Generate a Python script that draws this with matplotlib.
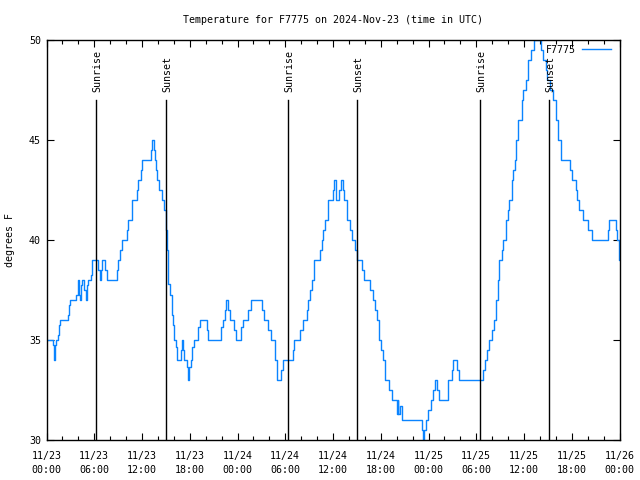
import matplotlib
matplotlib.use("Agg")
import matplotlib.pyplot as plt
from matplotlib.ticker import MultipleLocator, FixedLocator

# ---- data (hours since 2024-11-23 00:00 UTC, temperature in F) ----
hours = [0.00, 0.78, 0.90, 1.10, 1.19, 1.48, 1.61, 1.73, 2.74, 2.87, 2.99, 3.74, 3.92, 4.05,
         4.20, 4.35, 4.50, 4.75, 4.95, 5.10, 5.20, 5.55, 5.76, 6.51, 6.70, 6.85, 7.01, 7.35,
         7.64, 8.82, 8.95, 9.24, 9.53, 10.08, 10.20, 10.71, 11.33, 11.46, 11.87, 12.04, 13.15,
         13.30, 13.45, 13.63, 13.76, 13.92, 14.17, 14.48, 14.80, 14.98, 15.10, 15.23, 15.31,
         15.52, 15.73, 15.86, 15.98, 16.06, 16.27, 16.45, 16.90, 17.03, 17.15, 17.32, 17.60,
         17.75, 17.90, 18.10, 18.30, 18.57, 19.08, 19.29, 20.13, 20.33, 21.93, 22.18, 22.43,
         22.59, 22.85, 23.10, 23.60, 23.81, 24.40, 24.65, 25.36, 25.66, 27.12, 27.33, 27.87,
         28.17, 28.71, 28.93, 29.43, 29.68, 30.94, 31.10, 31.86, 32.19, 32.70, 32.90, 33.11,
         33.36, 33.61, 34.37, 34.58, 34.78, 35.00, 35.41, 35.96, 36.17, 36.34, 36.79, 37.04,
         37.26, 37.42, 37.80, 38.14, 38.35, 38.77, 39.06, 39.65, 39.90, 40.65, 40.99, 41.24,
         41.53, 41.82, 42.07, 42.28, 42.54, 43.08, 43.45, 44.01, 44.11, 44.23, 44.36, 44.63,
         47.15, 47.27, 47.44, 47.63, 47.94, 48.32, 48.61, 48.82, 49.07, 49.36, 50.41, 50.92,
         51.14, 51.62, 51.87, 54.89, 55.10, 55.32, 55.64, 55.94, 56.23, 56.45, 56.70, 56.86,
         57.18, 57.40, 57.70, 57.95, 58.12, 58.46, 58.66, 58.81, 58.96, 59.29, 59.71, 59.91,
         60.22, 60.54, 60.88, 61.30, 62.14, 62.43, 62.77, 62.93, 63.27, 63.68, 63.99, 64.31,
         64.65, 65.78, 65.99, 66.50, 66.70, 66.95, 67.38, 68.08, 68.51, 70.52, 70.72, 71.56,
         71.73, 71.90, 72.00]
temps = [35, 34.75, 34, 34.75, 35, 35.25, 35.75, 36, 36.25, 36.75, 37, 37.25, 38, 37.25,
         37, 37.75, 38, 37.5, 37, 37.75, 38, 38.25, 39, 38.5, 38, 38.5, 39, 38.5,
         38, 38.5, 39, 39.5, 40, 40.5, 41, 42, 42.5, 43, 43.5, 44, 44.5,
         45, 44.5, 44, 43.5, 43, 42.5, 42, 41.5, 40.5, 39.5, 38.5, 37.8,
         37.25, 36.25, 35.75, 35.25, 35, 34.67, 34, 34.5, 35, 34.5, 34, 33.67,
         33, 33.67, 34, 34.67, 35, 35.67, 36, 35.5, 35, 35.67, 36, 36.5,
         37, 36.5, 36, 35.5, 35, 35.67, 36, 36.5, 37, 36.5, 36, 35.5,
         35, 34, 33, 33.5, 34, 34.5, 35, 35.5, 36, 36.5, 37, 37.5,
         38, 39, 39.5, 40, 40.5, 41, 42, 42.5, 43, 42, 42.5, 43,
         42.5, 42, 41, 40.5, 40, 39.5, 39, 38.5, 38, 37.5, 37, 36.5,
         36, 35, 34.5, 34, 33, 32.5, 32, 31.3, 32, 31.3, 31.7, 31,
         30.5, 30, 30.5, 31, 31.5, 32, 32.5, 33, 32.5, 32, 33, 33.5,
         34, 33.5, 33, 33.5, 34, 34.5, 35, 35.5, 36, 37, 38, 39,
         39.5, 40, 41, 41.5, 42, 43, 43.5, 44, 45, 46, 47, 47.5,
         48, 49, 49.5, 50, 49.5, 49, 48.5, 48, 47.5, 47, 46, 45,
         44, 43.5, 43, 42.5, 42, 41.5, 41, 40.5, 40, 40.5, 41, 40.5,
         40, 39, 39]

sun_hours = [6.26, 15.05, 30.39, 39.06, 54.51, 63.18]
sun_labels = ["Sunrise", "Sunset", "Sunrise", "Sunset", "Sunrise", "Sunset"]

xtick_hours = [0, 6, 12, 18, 24, 30, 36, 42, 48, 54, 60, 66, 72]
xtick_labels = ["11/23\n00:00", "11/23\n06:00", "11/23\n12:00", "11/23\n18:00",
                "11/24\n00:00", "11/24\n06:00", "11/24\n12:00", "11/24\n18:00",
                "11/25\n00:00", "11/25\n06:00", "11/25\n12:00", "11/25\n18:00",
                "11/26\n00:00"]
yticks = [30, 35, 40, 45, 50]

station = "F7775"
title = "Temperature for F7775 on 2024-Nov-23 (time in UTC)"

plt.rcParams['font.family'] = ['DejaVu Sans Mono']
FS = 7.2

fig = plt.figure(figsize=(6.4, 4.8), dpi=100)
ax = fig.add_axes([46.5 / 640, 1 - 440 / 480, (619.5 - 46.5) / 640, 400 / 480])

ax.plot(hours, temps, drawstyle='steps-post', color='#0a84ff', lw=1.0, label=station,
        clip_on=True)

for h, lab in zip(sun_hours, sun_labels):
    ax.plot([h, h], [30, 47], color='black', lw=1.0)
    ax.annotate(lab, xy=(h, 47), xytext=(1, 6), textcoords='offset points',
                rotation=90, ha='center', va='bottom', fontsize=FS)

ax.set_xlim(0, 72)
ax.set_ylim(30, 50)
ax.xaxis.set_major_locator(FixedLocator(xtick_hours))
ax.set_xticklabels(xtick_labels, fontsize=FS, linespacing=1.5)
ax.xaxis.set_minor_locator(MultipleLocator(2))
ax.set_yticks(yticks)
ax.set_yticklabels([str(v) for v in yticks], fontsize=FS)

ax.tick_params(which='both', direction='in', top=True, right=True, width=0.8)
ax.tick_params(which='major', length=5, pad=8)
ax.tick_params(axis='y', which='major', pad=4)
ax.tick_params(which='minor', length=3)
for s in ax.spines.values():
    s.set_linewidth(1.0)

ax.set_title(title, fontsize=FS, pad=12.5)
ax.set_ylabel("degrees F", fontsize=FS, labelpad=10)

ax.legend(loc='upper right', bbox_to_anchor=(1 - 3.5 / 573, 1), markerfirst=False,
          frameon=False, fontsize=FS, handlelength=2.9, handletextpad=0.6,
          borderaxespad=0.5, borderpad=0.0)

fig.savefig("out.png", dpi=100)
